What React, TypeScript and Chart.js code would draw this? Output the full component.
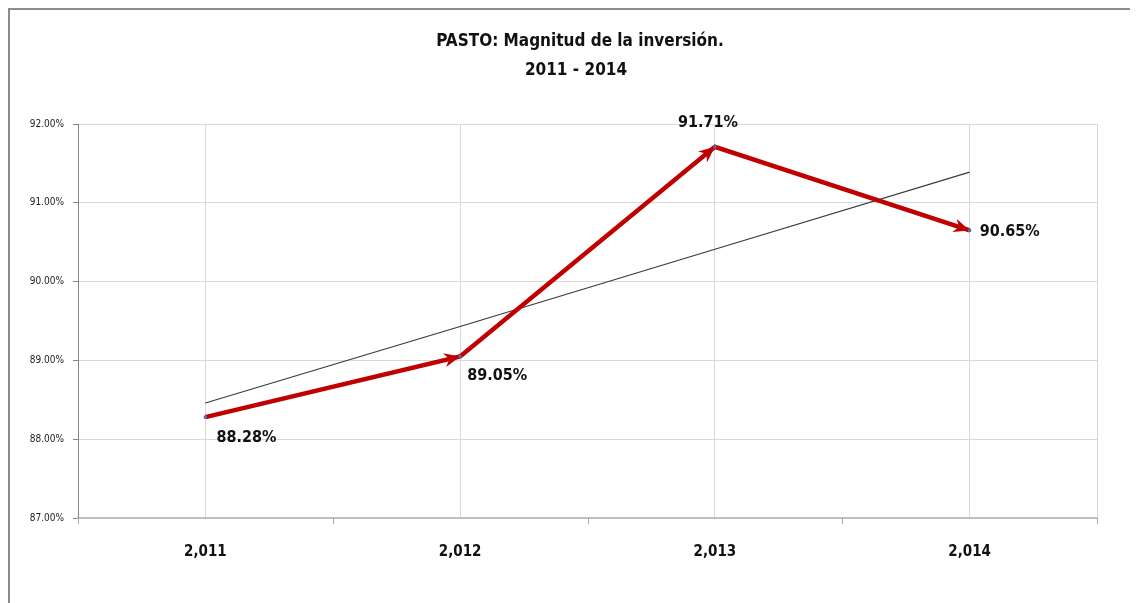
import React, { useEffect, useRef } from "react";
import { Chart, registerables } from "chart.js";

Chart.register(...registerables);

const categories = ["2,011", "2,012", "2,013", "2,014"];
const inversion = [88.28, 89.05, 91.71, 90.65];
const trend = [88.46, 89.43, 90.41, 91.39];
const titleLines = ["PASTO: Magnitud de la inversión.", "2011 - 2014"];
const yMin = 87;
const yMax = 92;
const yStep = 1;

const FONT = "'DejaVu Sans Condensed', 'Open Sans', sans-serif";
const RED = "#C00000";

// label placement relative to each point: [dx, dy, align]
const labelPlacement: [number, number, CanvasTextAlign][] = [
  [11, 21, "left"],
  [7, 19, "left"],
  [-7, -24, "center"],
  [10, 1, "left"],
];

const decorPlugin = {
  id: "decor",
  afterDraw(chart: any) {
    const ctx = chart.ctx;
    const area = chart.chartArea;
    const xs = chart.scales.x;
    ctx.save();
    // title
    ctx.fillStyle = "#111111";
    ctx.font = `bold 17px ${FONT}`;
    ctx.textAlign = "center";
    ctx.textBaseline = "middle";
    ctx.fillText(titleLines[0], chart.width / 2 + 6, 32);
    ctx.fillText(titleLines[1], chart.width / 2 + 2, 61);
    // right edge gridline
    ctx.strokeStyle = "#d9d9d9";
    ctx.lineWidth = 1;
    ctx.beginPath();
    ctx.moveTo(Math.round(area.right) + 0.5, area.top);
    ctx.lineTo(Math.round(area.right) + 0.5, area.bottom);
    ctx.stroke();
    // x tick marks at category boundaries
    ctx.strokeStyle = "#a6a6a6";
    const n = categories.length;
    const bounds: number[] = [area.left];
    for (let i = 0; i < n - 1; i++) {
      bounds.push((xs.getPixelForValue(i) + xs.getPixelForValue(i + 1)) / 2);
    }
    bounds.push(area.right);
    bounds.forEach((b) => {
      const x = Math.round(b) + 0.5;
      ctx.beginPath();
      ctx.moveTo(x, area.bottom);
      ctx.lineTo(x, area.bottom + 6);
      ctx.stroke();
    });
    ctx.restore();
  },
  afterDatasetsDraw(chart: any) {
    const ctx = chart.ctx;
    const meta = chart.getDatasetMeta(0);
    const pts = meta.data;
    ctx.save();
    // arrowheads
    for (let i = 1; i < pts.length; i++) {
      const a = pts[i - 1];
      const b = pts[i];
      const ang = Math.atan2(b.y - a.y, b.x - a.x);
      const len = 16;
      const half = 7;
      const back = 5;
      ctx.fillStyle = RED;
      ctx.beginPath();
      ctx.moveTo(b.x, b.y);
      ctx.lineTo(
        b.x - len * Math.cos(ang) + half * Math.sin(ang),
        b.y - len * Math.sin(ang) - half * Math.cos(ang)
      );
      ctx.lineTo(b.x - (len - back) * Math.cos(ang), b.y - (len - back) * Math.sin(ang));
      ctx.lineTo(
        b.x - len * Math.cos(ang) - half * Math.sin(ang),
        b.y - len * Math.sin(ang) + half * Math.cos(ang)
      );
      ctx.closePath();
      ctx.fill();
    }
    // small point markers
    pts.forEach((p: any) => {
      ctx.fillStyle = "#5a6aa8";
      ctx.beginPath();
      ctx.arc(p.x, p.y, 1.8, 0, Math.PI * 2);
      ctx.fill();
    });
    // data labels
    ctx.fillStyle = "#111111";
    ctx.font = `bold 16px ${FONT}`;
    ctx.textBaseline = "middle";
    pts.forEach((p: any, i: number) => {
      const [dx, dy, al] = labelPlacement[i];
      ctx.textAlign = al;
      ctx.fillText(inversion[i].toFixed(2) + "%", p.x + dx, p.y + dy);
    });
    ctx.restore();
  },
};

export default function App() {
  const ref = useRef<HTMLCanvasElement>(null);
  useEffect(() => {
    if (!ref.current) return;
    const chart = new Chart(ref.current, {
      type: "line",
      data: {
        labels: categories,
        datasets: [
          {
            label: "Magnitud de la inversión",
            data: inversion,
            borderColor: RED,
            borderWidth: 4.5,
            pointRadius: 0,
            tension: 0,
          },
          {
            label: "Tendencia",
            data: trend,
            borderColor: "#3a3a3a",
            borderWidth: 1.2,
            pointRadius: 0,
            tension: 0,
          },
        ],
      },
      options: {
        responsive: false,
        animation: false,
        layout: { padding: { left: 0, right: 41, top: 114, bottom: 25 } },
        plugins: {
          legend: { display: false },
          tooltip: { enabled: false },
          title: { display: false },
        },
        scales: {
          x: {
            offset: true,
            grid: { offset: false, color: "#d9d9d9", drawTicks: false },
            border: { color: "#bfbfbf", width: 2 },
            ticks: {
              color: "#111111",
              font: { family: FONT, size: 15, weight: "bold" },
              padding: 25,
            },
            afterFit: (s: any) => {
              s.height = 60;
            },
          },
          y: {
            min: yMin,
            max: yMax,
            grid: { color: "#d9d9d9", tickLength: 5, tickColor: "#868686" },
            border: { color: "#868686", width: 1 },
            ticks: {
              stepSize: yStep,
              color: "#222222",
              font: { family: FONT, size: 10 },
              padding: 9,
              callback: (v: any) => Number(v).toFixed(2) + "%",
            },
            afterFit: (s: any) => {
              s.width = 68;
            },
          },
        },
      },
      plugins: [decorPlugin],
    });
    return () => chart.destroy();
  }, []);
  return (
    <div
      style={{
        width: 1128,
        height: 593,
        borderTop: "2px solid #8c8c8c",
        borderLeft: "2px solid #8c8c8c",
        background: "#fff",
      }}
    >
      <canvas ref={ref} width={1128} height={593} style={{ display: "block" }} />
    </div>
  );
}
